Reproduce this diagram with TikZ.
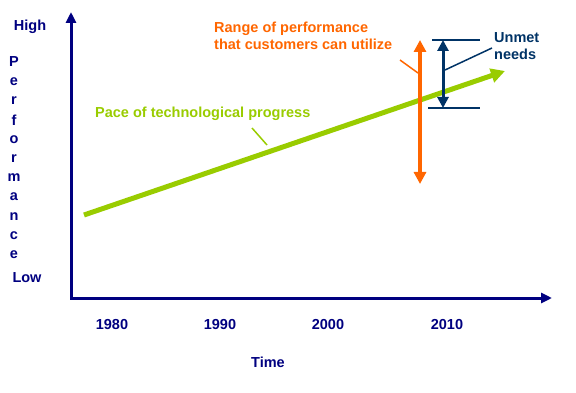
\documentclass[tikz,border=0pt]{standalone}
\usepackage{fontspec}
\setmainfont{Liberation Sans}
\usetikzlibrary{positioning,arrows.meta}
\definecolor{axisblue}{RGB}{0,0,128}
\definecolor{needblue}{RGB}{0,51,102}
\definecolor{techgreen}{RGB}{153,204,0}
\definecolor{rangeorange}{RGB}{255,102,0}
\tikzset{
  lbl/.style={font=\fontsize{14.5}{17}\selectfont\bfseries, inner sep=1pt},
  axislbl/.style={lbl, text=axisblue},
  axisline/.style={draw=axisblue, line width=3pt},
}

\begin{document}
\begin{tikzpicture}[x=1pt,y=-1pt]
                   \useasboundingbox (0,0) rectangle (576,393);
                   % axes
                   \coordinate (ytop) at (71,12);
                   \coordinate (origin) at (71,298);
                   \coordinate (xend) at (552,298);
                   \draw[axisline, {Triangle[length=11pt,width=10pt]}-{Triangle[length=11pt,width=10pt]}] (ytop) -- (origin) -- (xend);
                   \node[axislbl] (high) at (30,27) {High};
                   \node[axislbl] (low) at (27,278) {Low};
                   \foreach \ch [count=\i from 0] in {P,e,r,f,o,r,m,a,n,c,e}
                     \node[axislbl] (perf\i) at (14,62+19.3*\i) {\ch};
                   \node[axislbl] (y1980) at (112,325) {1980};
                   \node[axislbl] (y1990) at (220,325) {1990};
                   \node[axislbl] (y2000) at (328,325) {2000};
                   \node[axislbl] (y2010) at (447,325) {2010};
                   \node[axislbl] (time) at (268,362) {Time};
                   % technology line
                   \coordinate (techstart) at (84,215);
                   \coordinate (techend) at (505,71);
                   \draw[techgreen, line width=5pt, -{Triangle[length=14pt,width=14pt]}] (techstart) -- (techend);
                   \node[lbl, text=techgreen, anchor=west] (pace) at (94,114) {Pace of technological progress};
                   \coordinate (pacelead) at (267,145);
                   \draw[techgreen, line width=1.5pt] (252,128) -- (pacelead);
                   % customer range
                   \coordinate (rangetop) at (420,40);
                   \coordinate (rangebot) at (420,184);
                   \draw[rangeorange, line width=4pt, {Triangle[length=12pt,width=12pt]}-{Triangle[length=12pt,width=12pt]}] (rangetop) -- (rangebot);
                   \node[lbl, text=rangeorange, anchor=west, align=left] (range) at (213,36) {Range of performance\\that customers can utilize};
                   \coordinate (rangelead) at (418,73);
                   \draw[rangeorange, line width=1.5pt] (400,60) -- (rangelead);
                   % unmet needs
                   \coordinate (needtop) at (443,40);
                   \coordinate (needbot) at (443,108);
                   \draw[needblue, line width=2pt] (432,40) -- (480,40) (428,108) -- (480,108);
                   \draw[needblue, line width=3pt, {Triangle[length=11pt,width=11pt]}-{Triangle[length=11pt,width=11pt]}] (needtop) -- (needbot);
                   \node[lbl, text=needblue, anchor=west, align=left] (unmet) at (493,46) {Unmet\\needs};
                   \coordinate (needlead) at (445,70);
                   \draw[needblue, line width=1.5pt] (needlead) -- (492,48);
\end{tikzpicture}
\end{document}
